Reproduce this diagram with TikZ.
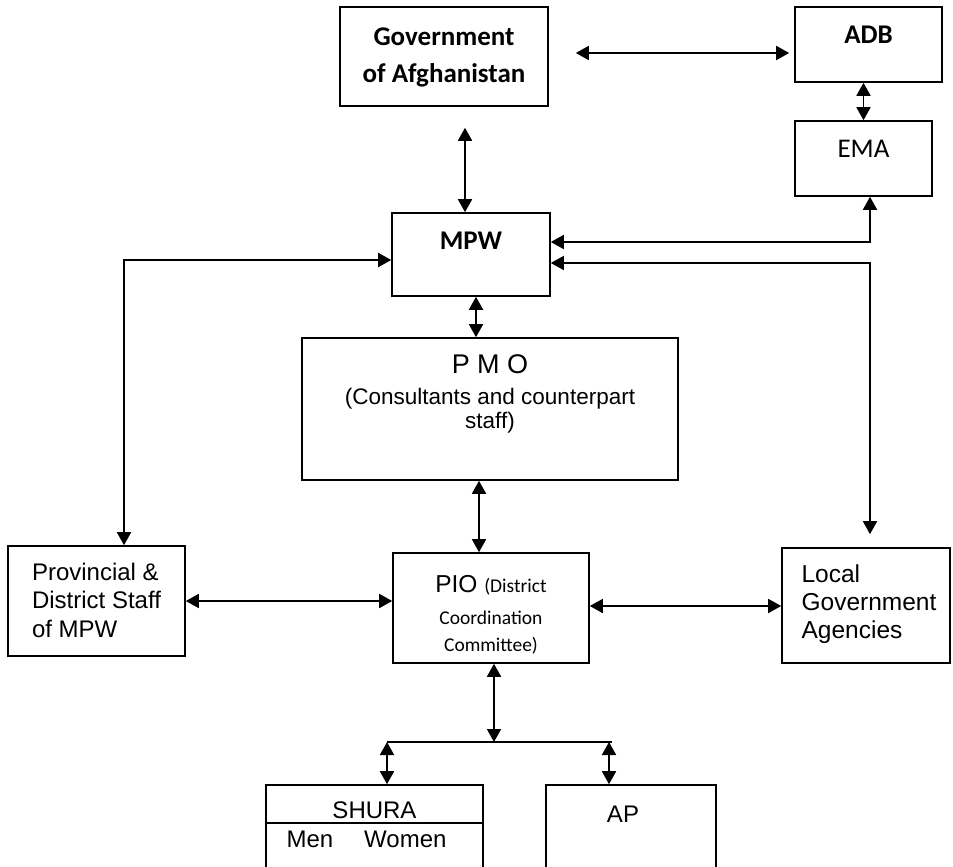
\documentclass[tikz,border=0pt]{standalone}
\usepackage{fontspec}
\setmainfont{Liberation Sans}
\newfontfamily\carlito{Carlito}
\usetikzlibrary{arrows.meta}

\begin{document}
\begin{tikzpicture}[
  x=1pt, y=-1pt,
  box/.style={draw, line width=1.6pt, inner sep=0pt, align=center},
  calb/.style={font=\carlito\bfseries\fontsize{27}{37}\selectfont},
  arr/.style={{Triangle[length=13pt,width=14pt]}-{Triangle[length=13pt,width=14pt]}, line width=1.7pt}
]
\useasboundingbox (0,0) rectangle (953,867);

%% Top row
\node[box, calb, minimum width=208pt, minimum height=99pt, text height=60pt, text depth=9pt] (gov) at (444,56.5) {Government\\of Afghanistan};
\node[box, calb, minimum width=147pt, minimum height=75pt, text height=18pt, text depth=20pt] (adb) at (868.5,44.5) {ADB};
\node[box, font=\carlito\fontsize{27}{33}\selectfont, minimum width=137pt, minimum height=75pt, text height=18pt, text depth=21pt] (ema) at (863.5,158.5) {EMA};

%% Ministry and PMO
\node[box, calb, minimum width=158pt, minimum height=83pt, text height=18pt, text depth=29pt] (mpw) at (471,254.5) {MPW};
\node[box, font=\fontsize{22.5}{23.5}\selectfont, minimum width=376pt, minimum height=142pt, text height=60pt, text depth=22pt] (pmo) at (490,409) {{\fontsize{27}{27}\selectfont P M O}\\[7.5pt](Consultants and counterpart\\staff)};

%% Middle row
\node[box, align=left, font=\fontsize{24}{28.5}\selectfont, minimum width=177pt, minimum height=110pt, text height=80pt, text depth=8pt] (prov) at (96.5,601) {Provincial \&\\District Staff\\of MPW};
\node[box, font=\carlito\fontsize{19.5}{27}\selectfont, minimum width=196pt, minimum height=110pt, text height=90pt, text depth=4pt] (pio) at (491,608) {{\rmfamily\fontsize{24.5}{27}\selectfont PIO }(District\\[5pt]Coordination\\Committee)};
\node[box, align=left, font=\fontsize{24.5}{28}\selectfont, minimum width=168pt, minimum height=115pt, text height=75pt, text depth=10pt] (local) at (866,605.5) {\kern6pt Local\\\kern6pt Government\\\kern6pt Agencies};

%% Bottom row
\node[box, font=\fontsize{24}{28}\selectfont, minimum width=217pt, minimum height=38pt, text height=28pt, text depth=0pt] (shura) at (374.5,804) {SHURA};
\node[box, font=\fontsize{24}{28}\selectfont, minimum width=217pt, minimum height=47pt, text height=17pt, text depth=16pt] (shuragrp) at (374.5,846.5) {Men\hspace{31pt}Women\kern16pt};
\node[box, font=\fontsize{24}{28}\selectfont, minimum width=170pt, minimum height=85pt, text height=17pt, text depth=28pt] (ap) at (631,827.5) {AP\kern16pt};

\coordinate (bus) at (494,742);
\coordinate (busl) at (387,742);
\coordinate (busr) at (612,742);

%% Arrows
\draw[arr] ([xshift=27pt,yshift=3.5pt]gov.east) -- ([xshift=-5pt,yshift=-8.5pt]adb.west);
\draw[arr] (adb.south -| ema.north) -- (ema.north);
\draw[arr] ([xshift=-6pt,yshift=-21pt]gov.south -| mpw.north) -- ([xshift=-6pt]mpw.north);
\draw[arr] ([xshift=5pt]mpw.south) -- ([xshift=5pt]mpw.south |- pmo.north);
\draw[arr] ([xshift=-12pt]pio.north |- pmo.south) -- ([xshift=-12pt]pio.north);
\draw[arr] ([yshift=-5.5pt]mpw.west) -| ([xshift=27.5pt]prov.north);
\draw[arr] ([yshift=12.5pt]mpw.east) -| ([xshift=6.5pt]ema.south);
\draw[arr] ([yshift=-8.5pt]mpw.east) -| ([xshift=4pt,yshift=13pt]local.north);
\draw[arr] (prov.east) -- (prov.east -| pio.west);
\draw[arr] ([yshift=-0.5pt]local.west -| pio.east) -- ([yshift=-0.5pt]local.west);
\draw[arr] ([xshift=3pt]pio.south) -- (bus);
\draw[line width=1.5pt] (busl) -- (busr);
\draw[arr] (busl) -- (busl |- shura.north);
\draw[arr] ([xshift=-3pt]busr) -- ([xshift=-3pt]busr |- ap.north);
\end{tikzpicture}
\end{document}
